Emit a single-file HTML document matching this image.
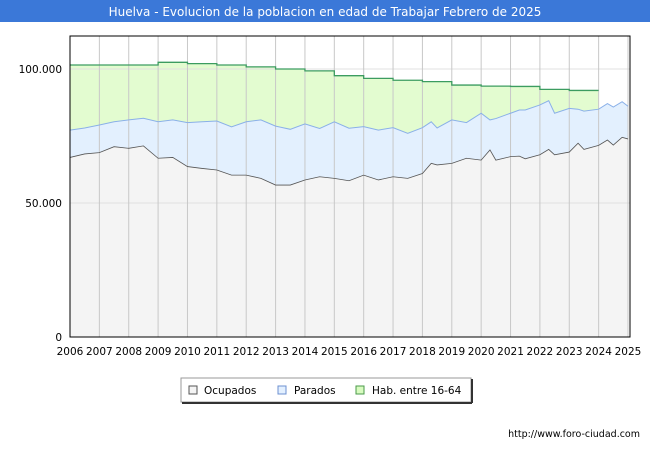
<!DOCTYPE html>
<html><head><meta charset="utf-8"><style>
body{margin:0;width:650px;height:450px;background:#fff;font-family:"DejaVu Sans","Liberation Sans",sans-serif;overflow:hidden}
</style></head><body>
<svg width="650" height="450" viewBox="0 0 650 450" font-family="DejaVu Sans, Liberation Sans, sans-serif">
<rect x="0" y="0" width="650" height="450" fill="#fff"/>
<rect x="0" y="0" width="650" height="22" fill="#3b78d8"/>
<text x="325" y="16" text-anchor="middle" font-size="12" fill="#fff">Huelva - Evolucion de la poblacion en edad de Trabajar Febrero de 2025</text>
<g id="plot"></g>
<g>
<rect x="181" y="378" width="290" height="24" fill="#fff" stroke="#999"/>
<line x1="182" y1="403" x2="472" y2="403" stroke="#333" stroke-width="2"/>
<line x1="472" y1="379" x2="472" y2="403" stroke="#333" stroke-width="2"/>
<rect x="189" y="386" width="8" height="8" fill="#f4f4f4" stroke="#555"/>
<text x="204" y="394" font-size="10.5" fill="#000">Ocupados</text>
<rect x="278" y="386" width="8" height="8" fill="#e3f0ff" stroke="#6c90d0"/>
<text x="294" y="394" font-size="10.5" fill="#000">Parados</text>
<rect x="356" y="386" width="8" height="8" fill="#d8fbc0" stroke="#4a9a4a"/>
<text x="372" y="394" font-size="10.5" fill="#000">Hab. entre 16-64</text>
</g>
<text x="640" y="437" text-anchor="end" font-size="9.5" fill="#000">http://www.foro-ciudad.com</text>
</svg>
<script>
const habYears=[2006,2007,2008,2009,2010,2011,2012,2013,2014,2015,2016,2017,2018,2019,2020,2021,2022,2023];
const habValues=[101500,101500,101500,102500,102000,101500,100800,100000,99300,97500,96500,95800,95300,94000,93600,93500,92400,92000];
const seriesT=[2006,2006.5,2007,2007.5,2008,2008.5,2009,2009.5,2010,2010.5,2011,2011.5,2012,2012.5,2013,2013.5,2014,2014.5,2015,2015.5,2016,2016.5,2017,2017.5,2018,2018.3,2018.5,2019,2019.5,2020,2020.3,2020.5,2021,2021.3,2021.5,2022,2022.3,2022.5,2023,2023.3,2023.5,2024,2024.3,2024.5,2024.8,2025];
const totalValues=[77200,78000,79100,80300,81000,81600,80300,81000,80000,80300,80600,78400,80300,81000,78700,77500,79500,77800,80300,77900,78500,77200,78100,76000,78100,80300,78000,81000,80000,83500,81000,81500,83500,84700,84700,86600,88200,83500,85300,85000,84300,85000,87100,85800,87800,86100];
const ocupadosValues=[67000,68300,68800,71000,70400,71300,66700,67000,63600,62900,62300,60400,60400,59200,56700,56700,58600,59800,59200,58300,60400,58600,59800,59200,61000,64800,64200,64800,66700,66000,69800,66000,67300,67500,66500,68000,70000,68000,69000,72300,70000,71500,73500,71600,74500,73900];
const yTicks=[0,50000,100000];
const yTickLabels=["0","50.000","100.000"];
const xYears=[2006,2007,2008,2009,2010,2011,2012,2013,2014,2015,2016,2017,2018,2019,2020,2021,2022,2023,2024,2025];
const X0=70,X1=628,Y0=337,YPX=134/50000;
const sx=t=>X0+(t-2006)*(X1-X0)/19;
const sy=v=>Y0-v*YPX;
const NS="http://www.w3.org/2000/svg";
const g=document.getElementById('plot');
function mk(tag,attrs){const e=document.createElementNS(NS,tag);for(const k in attrs)e.setAttribute(k,attrs[k]);g.appendChild(e);return e;}
let hp=`M${sx(habYears[0])},${Y0}`;let hl='';
habYears.forEach((y,i)=>{const a=sx(y),b=sx(y+1),v=sy(habValues[i]);hp+=` L${a},${v} L${b},${v}`;hl+=(i?' L':'M')+`${a},${v} L${b},${v}`;});
hp+=` L${sx(2024)},${Y0} Z`;
let e=mk('path',{d:hp,fill:'#e3fcd0'});


function linePath(vals){return seriesT.map((t,i)=>(i?'L':'M')+sx(t)+','+sy(vals[i])).join(' ');}
e=mk('path',{d:linePath(totalValues)+` L${sx(2025)},${Y0} L${sx(2006)},${Y0} Z`,fill:'#e3f0fe'});


e=mk('path',{d:linePath(ocupadosValues)+` L${sx(2025)},${Y0} L${sx(2006)},${Y0} Z`,fill:'#f4f4f4'});


yTicks.forEach((v,i)=>{
 if(v>0){const l=mk('line',{x1:X0,x2:630,y1:sy(v),y2:sy(v),stroke:'#e0e0e0'});
 
 }
 const t=mk('text',{x:62,y:sy(v)+4,'text-anchor':'end','font-size':10.5,fill:'#000'});t.textContent=yTickLabels[i];
 
 
});
xYears.forEach(y=>{
 if(y>2006){const l=mk('line',{x1:sx(y),x2:sx(y),y1:36,y2:Y0,stroke:'#c8c8c8'});
 
 }
 const t=mk('text',{x:sx(y),y:355,'text-anchor':'middle','font-size':10.5,fill:'#000'});t.textContent=y;
 
 
});
e=mk('path',{d:hl,fill:'none',stroke:'#3c9c60','stroke-width':1.3});


e=mk('path',{d:linePath(totalValues),fill:'none',stroke:'#8ab0e8','stroke-width':1});


e=mk('path',{d:linePath(ocupadosValues),fill:'none',stroke:'#555','stroke-width':0.8});


e=mk('rect',{x:X0,y:36,width:630-X0,height:Y0-36,fill:'none',stroke:'#000','stroke-width':1});


</script>
</body></html>
